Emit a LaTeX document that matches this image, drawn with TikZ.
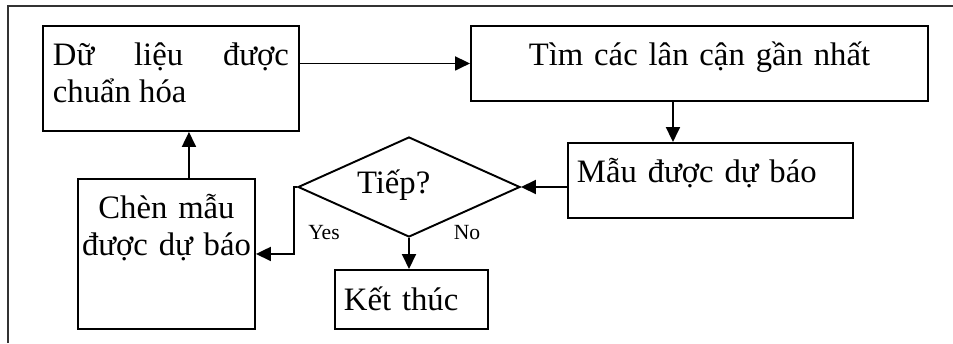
\documentclass[tikz,border=0pt]{standalone}
\usepackage{fontspec}
\setmainfont{Liberation Serif}
\usetikzlibrary{arrows.meta, positioning, shapes.geometric}

\begin{document}
\begin{tikzpicture}[font=\fontsize{18.6}{21}\selectfont,
    blk/.style={draw, line width=1.1pt, inner ysep=0pt, inner xsep=0.18cm, anchor=north west},
    dec/.style={draw, diamond, line width=1.1pt, inner sep=0pt, aspect=2.22, minimum width=4.44cm, minimum height=2cm},
    lbl/.style={font=\fontsize{12.3}{14}\selectfont, inner sep=0pt},
    arr/.style={-{Triangle[length=0.3cm, width=0.28cm]}, line width=1.1pt},
    ]
    \useasboundingbox (0,0) rectangle (19.06,-6.86);

    % Frame
    \draw[line width=0.9pt, black!80] (0.16,-6.86) -- (0.16,-0.12) -- (19.06,-0.12);

    % Boxes
    \node[blk, inner xsep=0.2cm, text width=4.72cm, align=justify, text height=0.8cm, text depth=1.3cm] (data) at (0.84,-0.5) {Dữ liệu được\linebreak chuẩn hóa};
    \node[blk, text width=8.78cm, align=center, text height=0.8cm, text depth=0.7cm] (knn) at (9.4,-0.5) {Tìm các lân cận gần nhất};
    \node[blk, text width=5.34cm, align=left, text height=0.8cm, text depth=0.7cm] (pred) at (11.34,-2.84) {Mẫu được dự báo};
    \node[blk, inner xsep=0pt, text width=3.54cm, align=center, text height=0.8cm, text depth=2.2cm] (insert) at (1.54,-3.56) {Chèn mẫu\\được dự báo};
    \node[blk, text width=2.7cm, align=left, text height=0.82cm, text depth=0.36cm] (stop) at (6.68,-5.38) {Kết thúc};

    % Decision
    \node[dec, text width=2.08cm, align=left, text height=0.4cm, text depth=0.16cm] (next) at (8.18,-3.74) {Tiếp?};

    % Labels
    \node[lbl] (yes) at (6.48,-4.66) {Yes};
    \node[lbl] (no) at (9.34,-4.66) {No};

    % Arrows
    \draw[arr] (data.east |- knn.west) -- (knn.west);
    \draw[arr] ([xshift=-0.53cm]knn.south) -- ([xshift=-0.53cm]knn.south |- pred.north);
    \draw[arr] (pred.west |- next.east) -- (next.east);
    \draw[arr] (next.west) -- ++(-0.06,0) |- (insert.east);
    \draw[arr] (next.south) -- (next.south |- stop.north);
    \draw[arr] ([xshift=0.45cm]insert.north) -- ([xshift=0.45cm]insert.north |- data.south);
\end{tikzpicture}
\end{document}
